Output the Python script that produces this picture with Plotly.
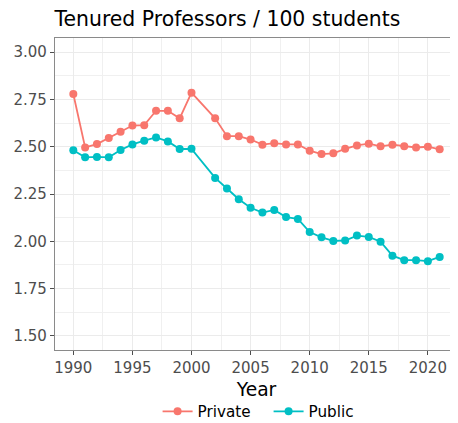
import plotly.graph_objects as go

years = [1990, 1991, 1992, 1993, 1994, 1995, 1996, 1997, 1998, 1999, 2000,
         2002, 2003, 2004, 2005, 2006, 2007, 2008, 2009, 2010, 2011, 2012,
         2013, 2014, 2015, 2016, 2017, 2018, 2019, 2020, 2021]
private_vals = [2.779, 2.496, 2.514, 2.546, 2.579, 2.612, 2.614, 2.690, 2.690, 2.650, 2.786,
                2.650, 2.556, 2.556, 2.538, 2.511, 2.519, 2.512, 2.512, 2.479, 2.461, 2.465,
                2.489, 2.507, 2.516, 2.502, 2.511, 2.502, 2.496, 2.500, 2.486]
public_vals = [2.481, 2.444, 2.446, 2.444, 2.483, 2.512, 2.532, 2.549, 2.528, 2.488, 2.489,
               2.335, 2.279, 2.222, 2.177, 2.152, 2.166, 2.128, 2.118, 2.049, 2.021, 2.002,
               2.004, 2.030, 2.023, 1.998, 1.924, 1.900, 1.900, 1.895, 1.917]

series = [("Private", private_vals, "#F8766D"), ("Public", public_vals, "#00BFC4")]

fig = go.Figure()
for name, vals, col in series:
    fig.add_trace(go.Scatter(
        x=years, y=vals, name=name, mode="lines+markers",
        line=dict(color=col, width=1.8),
        marker=dict(color=col, size=8),
    ))

# The page body has an 8px margin, so the figure is laid out 8px smaller
W, H = 450, 415
L, T, B = 46.5, 29.7, 73

font_family = "DejaVu Sans"
axis_common = dict(
    showline=True, linecolor="#8a8a8a", linewidth=1.2, mirror=True,
    ticks="outside", ticklen=4, tickcolor="#4d4d4d", tickwidth=1.2,
    tickfont=dict(family=font_family, size=15, color="#4d4d4d"),
    showgrid=True, gridcolor="#ebebeb", gridwidth=1.2,
    zeroline=False, automargin=False,
)

fig.update_layout(
    width=W, height=H,
    paper_bgcolor="white", plot_bgcolor="white",
    margin=dict(l=L, r=0, t=T, b=B, autoexpand=False),
    font=dict(family=font_family, color="black"),
    title=dict(text="Tenured Professors / 100 students", x=L / W, xref="container",
               xanchor="left", y=1 - 11 / H, yref="container", yanchor="middle",
               font=dict(family=font_family, size=20.4, color="black")),
    showlegend=True,
    legend=dict(orientation="h", x=0.53, xanchor="center", y=-0.197, yanchor="middle",
                font=dict(family=font_family, size=15.2, color="black"),
                itemwidth=30, entrywidth=66, bgcolor="rgba(0,0,0,0)"),
    xaxis=dict(
        range=[1988.45, 2022.55],
        tickvals=[1990, 1995, 2000, 2005, 2010, 2015, 2020],
        title=dict(text="Year", font=dict(family=font_family, size=18.7, color="black"),
                   standoff=6),
        minor=dict(tickvals=[1992.5, 1997.5, 2002.5, 2007.5, 2012.5, 2017.5, 2022.5],
                   showgrid=True, gridcolor="#f0f0f0", gridwidth=0.9, ticks=""),
        **axis_common,
    ),
    yaxis=dict(
        range=[1.425, 3.075],
        tickvals=[1.5, 1.75, 2.0, 2.25, 2.5, 2.75, 3.0],
        tickformat=".2f",
        minor=dict(tickvals=[1.625, 1.875, 2.125, 2.375, 2.625, 2.875],
                   showgrid=True, gridcolor="#f0f0f0", gridwidth=0.9, ticks=""),
        **axis_common,
    ),
)

fig.write_html("out.html")
